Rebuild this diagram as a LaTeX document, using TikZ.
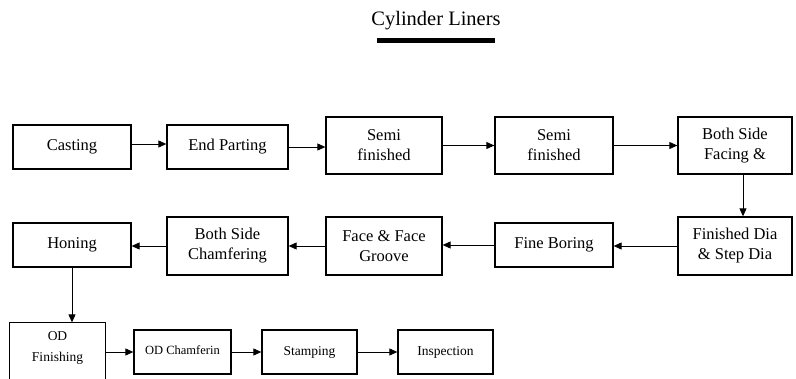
\documentclass[tikz,border=0pt]{standalone}
\usepackage{fontspec}
\setmainfont{Liberation Serif}
\usetikzlibrary{arrows.meta,calc}
\begin{document}
\begin{tikzpicture}[x=1pt,y=-1pt,
  box/.style={draw, line width=1.3pt, inner sep=0pt, align=center,
    font=\fontsize{16.5}{20}\selectfont},
  smallbox/.style={box, font=\fontsize{13.5}{21}\selectfont},
  arr/.style={line width=0.9pt, -{Triangle[length=8pt,width=7pt]}}]
\useasboundingbox (0,0) rectangle (796,379);
\node[font=\fontsize{20.5}{24}\selectfont] (title) at (436,21) {Cylinder Liners};
\fill (377,38) rectangle (495,43);
% row 1
\node[box, minimum width=118pt, minimum height=44pt] (cast) at (72,147) {Casting};
\node[box, minimum width=121pt, minimum height=44pt] (endp) at (227.5,147) {End Parting};
\node[box, minimum width=116pt, minimum height=57pt] (semia) at (384,145.5) {Semi\\finished};
\node[box, minimum width=118pt, minimum height=57pt] (semib) at (554,145.5) {Semi\\finished};
\node[box, minimum width=114pt, minimum height=57pt] (both) at (735,145.5) {Both Side\\Facing \&};
% row 2
\node[box, minimum width=114pt, minimum height=58pt] (fin) at (735,246) {Finished Dia\\\& Step Dia};
\node[box, minimum width=118pt, minimum height=44pt] (fine) at (554,245) {Fine Boring};
\node[box, minimum width=116pt, minimum height=58pt] (face) at (384,246) {Face \& Face\\Groove};
\node[box, minimum width=121pt, minimum height=58pt] (cham) at (227.5,246) {Both Side\\Chamfering};
\node[box, minimum width=118pt, minimum height=44pt] (hon) at (72,245) {Honing};
% row 3
\node[smallbox, draw=none, minimum width=95pt, minimum height=50pt] (odf) at (57.5,348) {OD\\Finishing};
\draw[line width=1.3pt] (odf.north west) rectangle ([yshift=-12pt]odf.south east);
\node[smallbox, minimum width=97pt, minimum height=44pt, font=\fontsize{12.5}{15}\selectfont] (odc) at (182.5,352) {\raisebox{3pt}{OD Chamferin}};
\node[smallbox, minimum width=95pt, minimum height=44pt] (stamp) at (309.5,352) {Stamping};
\node[smallbox, minimum width=95pt, minimum height=44pt] (insp) at (445.5,352) {Inspection};
% connectors
\draw[arr] ([yshift=3pt]cast.east) -- ([yshift=3pt]endp.west);
\draw[arr] (endp.east) -- (endp.east -| semia.west);
\draw[arr] (semia.east) -- (semib.west);
\draw[arr] (semib.east) -- (both.west);
\draw[arr] ([xshift=8pt]both.south) -- ([xshift=8pt]fin.north);
\draw[arr] (fin.west) -- (fin.west -| fine.east);
\draw[arr] (fine.west) -- (fine.west -| face.east);
\draw[arr] (face.west) -- (cham.east);
\draw[arr] (cham.west) -- (cham.west -| hon.east);
\draw[arr] (hon.south) -- (hon.south |- odf.north);
\draw[arr] (odc.west -| odf.east) -- (odc.west);
\draw[arr] (odc.east) -- (stamp.west);
\draw[arr] (stamp.east) -- (insp.west);
\end{tikzpicture}
\end{document}
